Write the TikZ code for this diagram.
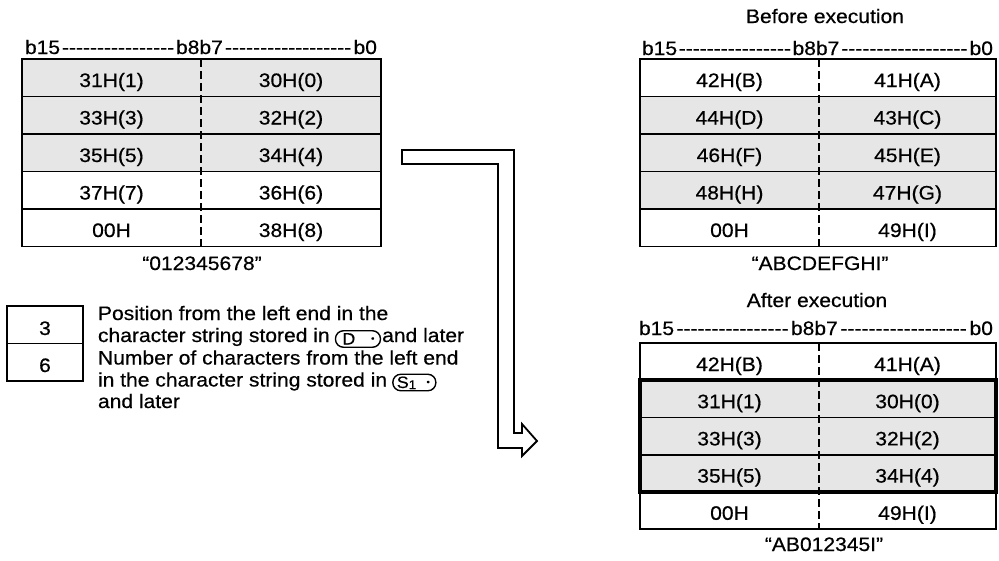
\documentclass[tikz,border=0pt]{standalone}
\usepackage{fontspec}
\setmainfont{Liberation Sans}[FakeStretch=1.08, FakeBold=0.5]
\usetikzlibrary{calc}
\definecolor{cellgray}{RGB}{230,230,230}
\newcommand{\bithdr}[1]{\hbox to #1{b15\cleaders\hbox{-}\hskip 0pt plus 0.47fill b8b7\cleaders\hbox{-}\hskip 0pt plus 0.53fill b0}}
\newcommand{\bdot}{\raisebox{3pt}{\fontsize{9}{9}\selectfont •}}
\tikzset{
  txt/.style={inner sep=0pt, outer sep=0pt, font=\fontsize{19.5}{22}\selectfont},
  celltxt/.style={txt, anchor=base},
  rowL/.style={draw, line width=1.8pt, minimum width=359pt, minimum height=37.5pt, inner sep=0pt, outer sep=0pt},
  rowR/.style={draw, line width=1.8pt, minimum width=356pt, minimum height=37.5pt, inner sep=0pt, outer sep=0pt},
  rowRb/.style={draw, line width=1.8pt, minimum width=356pt, minimum height=37.2pt, inner sep=0pt, outer sep=0pt},
  midline/.style={line width=1.8pt, dash pattern=on 8pt off 4pt},
  numbox/.style={draw, line width=1.8pt, minimum width=76pt, minimum height=37.5pt, inner sep=0pt},
  badge/.style={draw, line width=1.4pt, rounded corners=8pt, minimum height=16.5pt, inner sep=0pt, text height=13pt, text depth=2pt, font=\fontsize{16.5}{16.5}\selectfont},
  blockarrow/.style={draw, line width=1.8pt, line join=miter, fill=white},
}
\begin{document}
\begin{tikzpicture}[x=1pt, y=-1pt]
\useasboundingbox (0,0) rectangle (999,560);

% ---------- left table ----------
\node[txt, anchor=base west] (Lh) at (25,54) {\bithdr{352pt}};
\node[rowL, fill=cellgray] (L1) at (201.5,77.75) {};
\node[rowL, fill=cellgray] (L2) at (201.5,115.25) {};
\node[rowL, fill=cellgray] (L3) at (201.5,152.75) {};
\node[rowL, fill=white] (L4) at (201.5,190.25) {};
\node[rowL, fill=white] (L5) at (201.5,227.75) {};
\draw[midline] ($(L1.north)+(-0.5,0)$) -- ($(L5.south)+(-0.5,0)$);
\node[celltxt] (L1l) at ($(L1.center)+(-90,9.25)$) {31H(1)};
\node[celltxt] (L1r) at ($(L1.center)+(89.5,9.25)$) {30H(0)};
\node[celltxt] (L2l) at ($(L2.center)+(-90,9.25)$) {33H(3)};
\node[celltxt] (L2r) at ($(L2.center)+(89.5,9.25)$) {32H(2)};
\node[celltxt] (L3l) at ($(L3.center)+(-90,9.25)$) {35H(5)};
\node[celltxt] (L3r) at ($(L3.center)+(89.5,9.25)$) {34H(4)};
\node[celltxt] (L4l) at ($(L4.center)+(-90,9.25)$) {37H(7)};
\node[celltxt] (L4r) at ($(L4.center)+(89.5,9.25)$) {36H(6)};
\node[celltxt] (L5l) at ($(L5.center)+(-90,9.25)$) {00H};
\node[celltxt] (L5r) at ($(L5.center)+(89.5,9.25)$) {38H(8)};
\node[celltxt] (Lcap) at (202,270) {“012345678”};

% ---------- before execution ----------
\node[celltxt] (Bt) at (825,23) {Before execution};
\node[txt, anchor=base west] (Bh) at (642,55) {\bithdr{351pt}};
\node[rowR, fill=white] (B1) at (818,77.75) {};
\node[rowR, fill=cellgray] (B2) at (818,115.25) {};
\node[rowR, fill=cellgray] (B3) at (818,152.75) {};
\node[rowR, fill=cellgray] (B4) at (818,190.25) {};
\node[rowR, fill=white] (B5) at (818,227.75) {};
\draw[midline] ($(B1.north)+(1,0)$) -- ($(B5.south)+(1,0)$);
\node[celltxt] (B1l) at ($(B1.center)+(-88.5,9.25)$) {42H(B)};
\node[celltxt] (B1r) at ($(B1.center)+(89.5,9.25)$) {41H(A)};
\node[celltxt] (B2l) at ($(B2.center)+(-88.5,9.25)$) {44H(D)};
\node[celltxt] (B2r) at ($(B2.center)+(89.5,9.25)$) {43H(C)};
\node[celltxt] (B3l) at ($(B3.center)+(-88.5,9.25)$) {46H(F)};
\node[celltxt] (B3r) at ($(B3.center)+(89.5,9.25)$) {45H(E)};
\node[celltxt] (B4l) at ($(B4.center)+(-88.5,9.25)$) {48H(H)};
\node[celltxt] (B4r) at ($(B4.center)+(89.5,9.25)$) {47H(G)};
\node[celltxt] (B5l) at ($(B5.center)+(-88.5,9.25)$) {00H};
\node[celltxt] (B5r) at ($(B5.center)+(89.5,9.25)$) {49H(I)};
\node[celltxt] (Bcap) at (820,270) {“ABCDEFGHI”};

% ---------- after execution ----------
\node[celltxt] (At) at (817,307) {After execution};
\node[txt, anchor=base west] (Ah) at (639,335) {\bithdr{354pt}};
\node[rowRb, fill=white] (A1) at (818,361.6) {};
\node[rowRb, fill=cellgray] (A2) at (818,398.8) {};
\node[rowRb, fill=cellgray] (A3) at (818,436) {};
\node[rowRb, fill=cellgray] (A4) at (818,473.2) {};
\node[rowRb, fill=white] (A5) at (818,510.4) {};
\draw[midline] ($(A1.north)+(1,0)$) -- ($(A5.south)+(1,0)$);
\draw[line width=4.5pt] (A2.north west) rectangle (A4.south east);
\node[celltxt] (A1l) at ($(A1.center)+(-88.5,9.4)$) {42H(B)};
\node[celltxt] (A1r) at ($(A1.center)+(89.5,9.4)$) {41H(A)};
\node[celltxt] (A2l) at ($(A2.center)+(-88.5,9.4)$) {31H(1)};
\node[celltxt] (A2r) at ($(A2.center)+(89.5,9.4)$) {30H(0)};
\node[celltxt] (A3l) at ($(A3.center)+(-88.5,9.4)$) {33H(3)};
\node[celltxt] (A3r) at ($(A3.center)+(89.5,9.4)$) {32H(2)};
\node[celltxt] (A4l) at ($(A4.center)+(-88.5,9.4)$) {35H(5)};
\node[celltxt] (A4r) at ($(A4.center)+(89.5,9.4)$) {34H(4)};
\node[celltxt] (A5l) at ($(A5.center)+(-88.5,9.4)$) {00H};
\node[celltxt] (A5r) at ($(A5.center)+(89.5,9.4)$) {49H(I)};
\node[celltxt] (Acap) at (824,551) {“AB012345I”};

% ---------- parameter boxes ----------
\node[numbox] (n3box) at (45,324.75) {};
\node[numbox] (n6box) at (45,362.25) {};
\node[celltxt] (n3) at (45,335) {3};
\node[celltxt] (n6) at (45,372) {6};

\node[txt, anchor=base west] (d1) at (98,320) {Position from the left end in the};
\node[txt, anchor=base west] (d2) at (98,342) {character string stored in};
\node[badge, anchor=west] (bD) at ([xshift=5pt]d2.base east |- 0,339) {\hbox to 45pt{\hspace{7pt}D\hfill\bdot\hspace{6pt}}};
\node[txt, anchor=base west] (d2b) at ([xshift=1pt]bD.east |- d2.base) {and later};
\node[txt, anchor=base west] (d3) at (98,364.5) {Number of characters from the left end};
\node[txt, anchor=base west] (d4) at (98,386.5) {in the character string stored in};
\node[badge, anchor=west] (bS) at ([xshift=5pt]d4.base east |- 0,382.5) {\hbox to 43pt{\hspace{4pt}S\raisebox{-1pt}{\fontsize{12.5}{12.5}\selectfont 1}\hfill\bdot\hspace{6pt}}};
\node[txt, anchor=base west] (d5) at (98,408) {and later};

% ---------- block arrow ----------
\draw[blockarrow] (402,150) -- (514,150) -- (514,433) -- (522,433) -- (522,424) -- (537,441) -- (522,456) -- (522,448) -- (498,448) -- (498,164) -- (402,164) -- cycle;
\end{tikzpicture}
\end{document}
